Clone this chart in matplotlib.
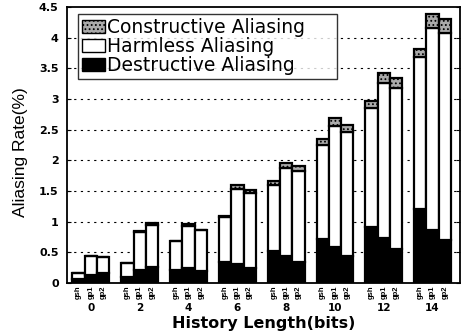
import matplotlib
matplotlib.use("Agg")
import matplotlib.pyplot as plt
import numpy as np
from matplotlib.transforms import blended_transform_factory
from matplotlib.patches import Patch

history = ["0", "2", "4", "6", "8", "10", "12", "14"]
schemes = ["gsh", "gp1", "gp2"]

# totals (top of bar), destructive, constructive, per scheme, per history length
total = {
    "gsh": [0.17, 0.33, 0.69, 1.10, 1.67, 2.34, 2.97, 3.82],
    "gp1": [0.44, 0.84, 0.96, 1.59, 1.96, 2.69, 3.43, 4.38],
    "gp2": [0.43, 0.97, 0.87, 1.51, 1.90, 2.58, 3.34, 4.31],
}
destructive = {
    "gsh": [0.06, 0.09, 0.22, 0.35, 0.52, 0.72, 0.91, 1.20],
    "gp1": [0.13, 0.21, 0.25, 0.31, 0.44, 0.58, 0.73, 0.87],
    "gp2": [0.17, 0.26, 0.20, 0.25, 0.35, 0.44, 0.56, 0.70],
}
constructive = {
    "gsh": [0.00, 0.00, 0.00, 0.03, 0.07, 0.09, 0.12, 0.14],
    "gp1": [0.00, 0.01, 0.03, 0.06, 0.09, 0.13, 0.17, 0.22],
    "gp2": [0.00, 0.03, 0.01, 0.05, 0.07, 0.12, 0.16, 0.23],
}

plt.rcParams['font.family'] = ['DejaVu Sans']
plt.rcParams['hatch.linewidth'] = 0.8
fig = plt.figure(figsize=(4.66, 3.32), dpi=100)
ax = fig.add_axes([0.1438, 0.1476, 0.987 - 0.1438, 0.979 - 0.1476])

w = 0.252
x = np.arange(len(history))
tick_pos = []
tick_lab = []
for j, s in enumerate(schemes):
    pos = x + (j - 1) * w
    d = np.array(destructive[s])
    c = np.array(constructive[s])
    t = np.array(total[s])
    h = t - d - c
    ax.bar(pos, d, w, color='black', edgecolor='black', linewidth=1.6, zorder=3)
    ax.bar(pos, h, w, bottom=d, color='white', edgecolor='black', linewidth=1.6, zorder=3)
    ax.bar(pos, c, w, bottom=d + h, color='#aaaaaa', edgecolor='black', linewidth=1.6,
           hatch='....', zorder=3)
    tick_pos.extend(pos)
    tick_lab.extend([s] * len(pos))

handles = [
    Patch(facecolor='#aaaaaa', edgecolor='black', hatch='....', label='Constructive Aliasing'),
    Patch(facecolor='white', edgecolor='black', label='Harmless Aliasing'),
    Patch(facecolor='black', edgecolor='black', label='Destructive Aliasing'),
]
leg = ax.legend(handles=handles, loc='upper left', bbox_to_anchor=(0.028, 0.5, 0.659, 0.475),
                mode='expand',
                prop={'family': 'DejaVu Sans', 'size': 13.5},
                frameon=True, fancybox=False, edgecolor='black',
                handlelength=1.2, handleheight=0.7, handletextpad=0.12,
                labelspacing=0.0, borderpad=0.22, borderaxespad=0.0)
leg.get_frame().set_linewidth(1.0)
leg.set_zorder(5)

ax.set_xlim(-0.49, 7.56)
ax.set_ylim(0, 4.5)
yt = np.arange(0, 4.51, 0.5)
ax.set_yticks(yt)
ax.set_yticklabels(['0', '0.5', '1', '1.5', '2', '2.5', '3', '3.5', '4', '4.5'],
                   fontsize=8, fontweight='bold')
for v in yt[1:-1]:
    ax.axhline(v, color='black', linestyle=(0, (2, 4)), linewidth=0.8, zorder=1)
ax.tick_params(axis='y', direction='in', right=True, length=3, pad=6)

ax.set_xticks(tick_pos)
ax.set_xticklabels(tick_lab, rotation=90, fontsize=5.5, fontweight='bold',
                   family='Liberation Sans')
ax.tick_params(axis='x', length=0, pad=2)

trans = blended_transform_factory(ax.transData, ax.transAxes)
for i, lab in enumerate(history):
    ax.text(x[i], -0.072, lab, transform=trans, ha='center', va='top',
            fontsize=7.5, fontweight='bold')

ax.set_xlabel('History Length(bits)', fontsize=11.5, fontweight='bold')
ax.xaxis.set_label_coords(0.5, -0.145)
ax.xaxis.label.set_va('center')
ax.set_ylabel('Aliasing Rate(%)', fontsize=12.5, family='Liberation Sans')
ax.yaxis.set_label_coords(-0.119, 0.475)
ax.yaxis.label.set_va('center')
for sp in ax.spines.values():
    sp.set_linewidth(1.3)

fig.savefig('out.png', dpi=100)
